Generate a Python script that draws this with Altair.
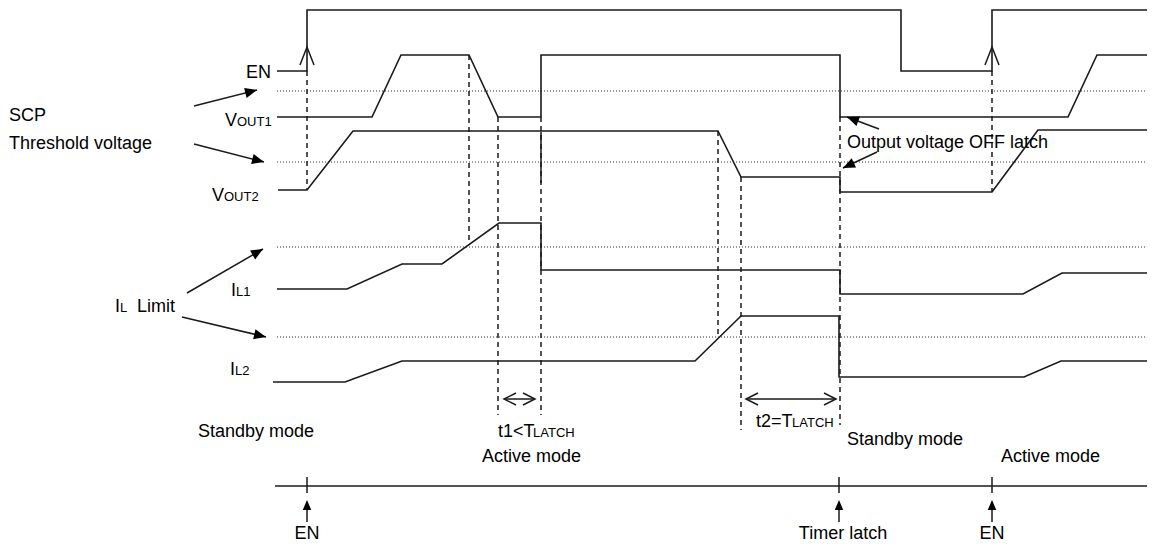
import math
import altair as alt
import pandas as pd

# ---------------- data (time units ~ diagram units, level units ~ diagram units) ----------------
# signal traces
EN_t = [277, 307, 307, 901, 901, 992, 992, 1155]
EN_y = [71, 71, 10, 10, 71, 71, 10, 10]
VOUT1_t = [277, 372, 401, 469, 498, 541, 541, 840, 840, 1068, 1097, 1155]
VOUT1_y = [117, 117, 55, 55, 117, 117, 55, 55, 117, 117, 55, 55]
VOUT2_t = [278, 307, 353, 718, 741, 840, 840, 992, 1038, 1155]
VOUT2_y = [190, 190, 131, 131, 177, 177, 192, 192, 130, 130]
IL1_t = [277, 347, 402, 442, 499, 541, 541, 840, 840, 1023, 1062, 1155]
IL1_y = [289, 289, 264, 264, 223, 223, 270, 270, 294, 294, 273, 273]
IL2_t = [273, 345, 402, 695, 741, 839, 839, 1024, 1061, 1155]
IL2_y = [382, 382, 361, 361, 316, 316, 377, 377, 361, 361]

# threshold (dotted) levels
TH_y = [91, 162, 247, 337]
TH_t0, TH_t1 = 277, 1155

# dashed event markers
DASH_t = [307, 469, 498, 541, 718, 741, 840, 992]
DASH_top = [71, 55, 117, 117, 131, 177, 117, 71]
DASH_bot = [190, 245, 415, 415, 337, 430, 425, 192]

# time axis & events
AXIS_y, AXIS_t0, AXIS_t1 = 486, 275, 1155
EVENT_t = [307, 839, 992]
EVENT_lab = ["EN", "Timer latch", "EN"]

# interval arrows t1, t2
INT_t0 = [504, 746]
INT_t1 = [535, 836]
INT_y = 399

# annotation arrows (start -> tip)
ANN_x0 = [194, 194, 187, 182, 879, 877]
ANN_y0 = [106, 144, 293, 317, 129, 152]
ANN_x1 = [257, 264, 263, 266, 847, 843]
ANN_y1 = [90, 162, 249, 337, 117, 168]

# text labels (left aligned): text, x, baseline y, font size
LAB_text = ["SCP", "Threshold voltage", "V", "OUT1", "V", "OUT2",
            "I", "L", "Limit", "I", "L1", "I", "L2",
            "Output voltage OFF latch", "Standby mode", "t1<T", "LATCH",
            "Active mode", "t2=T", "LATCH", "Standby mode", "Active mode"]
LAB_x = [9, 9, 225, 237, 212, 224, 115, 120, 137, 231, 236, 230, 235,
         847, 198, 498, 533, 482, 756, 792, 847, 1001]
LAB_y = [121, 149, 126, 126, 201, 201, 312, 312, 312, 296, 296, 375, 375,
         148, 437, 437, 437, 462, 427, 427, 445, 462]
LAB_size = [18, 18, 18, 13, 18, 13, 18, 13, 18, 18, 13, 18, 13,
            18, 18, 18, 13, 18, 18, 13, 18, 18]

FONT = "Liberation Sans, Arial, sans-serif"
INK = "#1a1a1a"

# ---------------- build tables ----------------
sig_rows = []
for name, (ts, ys) in {"EN": (EN_t, EN_y), "VOUT1": (VOUT1_t, VOUT1_y),
                       "VOUT2": (VOUT2_t, VOUT2_y), "IL1": (IL1_t, IL1_y),
                       "IL2": (IL2_t, IL2_y)}.items():
    for i, (t, y) in enumerate(zip(ts, ys)):
        sig_rows.append({"sig": name, "t": t, "y": y, "o": i})
sig_df = pd.DataFrame(sig_rows)

dot_df = pd.DataFrame({"x": [TH_t0] * len(TH_y), "x2": [TH_t1] * len(TH_y),
                       "y": TH_y, "y2": TH_y})
dash_df = pd.DataFrame({"x": DASH_t, "x2": DASH_t, "y": DASH_top, "y2": DASH_bot})

solid = [(AXIS_t0, AXIS_y, AXIS_t1, AXIS_y)]
for t in EVENT_t:
    solid.append((t, AXIS_y - 9, t, AXIS_y + 7))
    solid.append((t, AXIS_y + 23, t, AXIS_y + 36))
for a, b in zip(INT_t0, INT_t1):
    solid.append((a, INT_y, b, INT_y))
for x0, y0, x1, y1 in zip(ANN_x0, ANN_y0, ANN_x1, ANN_y1):
    solid.append((x0, y0, x1, y1))
solid.append((541, 132, 541, 183))
solid_df = pd.DataFrame(solid, columns=["x", "y", "x2", "y2"])


def head(tipx, tipy, dx, dy, length):
    L = math.hypot(dx, dy)
    ux, uy = dx / L, dy / L
    ang = math.degrees(math.atan2(dx, -dy)) % 360
    return {"x": tipx - ux * length / 2, "y": tipy - uy * length / 2,
            "angle": ang, "size": length * length}


filled_heads = []
for x0, y0, x1, y1 in zip(ANN_x0, ANN_y0, ANN_x1, ANN_y1):
    filled_heads.append(head(x1, y1, x1 - x0, y1 - y0, 12))
for t in EVENT_t:
    filled_heads.append(head(t, AXIS_y + 14, 0, -1, 10))
fh_df = pd.DataFrame(filled_heads)

chev_small = []
for a, b in zip(INT_t0, INT_t1):
    chev_small.append(head(a, INT_y, -1, 0, 12))
    chev_small.append(head(b, INT_y, 1, 0, 12))
cs_df = pd.DataFrame(chev_small)

chev_en = [head(t, 47, 0, -1, 18) for t in [307, 992]]
ce_df = pd.DataFrame(chev_en)

lab_df = pd.DataFrame({"text": LAB_text, "x": LAB_x, "y": LAB_y, "size": LAB_size})
lab_r_df = pd.DataFrame({"text": ["EN"], "x": [271], "y": [78]})
lab_c_df = pd.DataFrame({"text": EVENT_lab, "x": [307, 843, 992], "y": [539, 539, 539]})

# ---------------- scales (diagram units map 1:1 onto the page) ----------------
xs = alt.Scale(domain=[8, 1147], nice=False, zero=False)
ys = alt.Scale(domain=[8, 544], nice=False, zero=False, reverse=True)


def X(f):
    return alt.X(f, type="quantitative", scale=xs, axis=None)


def Y(f):
    return alt.Y(f, type="quantitative", scale=ys, axis=None)


signals = alt.Chart(sig_df).mark_line(color=INK, strokeWidth=1.6, strokeJoin="miter").encode(
    x=X("t"), y=Y("y"), detail="sig:N", order="o:Q")

dotted = alt.Chart(dot_df).mark_rule(color="#333", strokeWidth=1, strokeDash=[1, 2]).encode(
    x=X("x"), x2="x2", y=Y("y"), y2="y2")

dashed = alt.Chart(dash_df).mark_rule(color=INK, strokeWidth=1.5, strokeDash=[5, 4]).encode(
    x=X("x"), x2="x2", y=Y("y"), y2="y2")

solids = alt.Chart(solid_df).mark_rule(color=INK, strokeWidth=1.5).encode(
    x=X("x"), x2="x2", y=Y("y"), y2="y2")

TRI = "M0,-1L0.85,1L-0.85,1Z"
fheads = alt.Chart(fh_df).mark_point(shape=TRI, filled=True, color="#000", opacity=1,
                                     strokeWidth=0).encode(
    x=X("x"), y=Y("y"), angle=alt.Angle("angle:Q", scale=None),
    size=alt.Size("size:Q", scale=None))

cs = alt.Chart(cs_df).mark_point(shape="M-1,1L0,-1L1,1", filled=False, color=INK, opacity=1,
                                 strokeWidth=1.5).encode(
    x=X("x"), y=Y("y"), angle=alt.Angle("angle:Q", scale=None),
    size=alt.Size("size:Q", scale=None))

ce = alt.Chart(ce_df).mark_point(shape="M-0.78,1L0,-1L0.78,1", filled=False, color=INK, opacity=1,
                                 strokeWidth=1.5).encode(
    x=X("x"), y=Y("y"), angle=alt.Angle("angle:Q", scale=None),
    size=alt.Size("size:Q", scale=None))

labels = alt.Chart(lab_df).mark_text(align="left", baseline="alphabetic", font=FONT,
                                     color="#000").encode(
    x=X("x"), y=Y("y"), text="text:N", size=alt.Size("size:Q", scale=None))

labels_r = alt.Chart(lab_r_df).mark_text(align="right", baseline="alphabetic", font=FONT,
                                         fontSize=18, color="#000").encode(
    x=X("x"), y=Y("y"), text="text:N")

labels_c = alt.Chart(lab_c_df).mark_text(align="center", baseline="alphabetic", font=FONT,
                                         fontSize=18, color="#000").encode(
    x=X("x"), y=Y("y"), text="text:N")

chart = alt.layer(dotted, dashed, signals, solids, fheads, cs, ce, labels, labels_r, labels_c).properties(
    width=1139, height=536, padding=0,
    autosize=alt.AutoSizeParams(type="none"),
    background="white"
).configure_view(stroke=None)

chart.save("out.html", embed_options={"renderer": "svg", "actions": False})
